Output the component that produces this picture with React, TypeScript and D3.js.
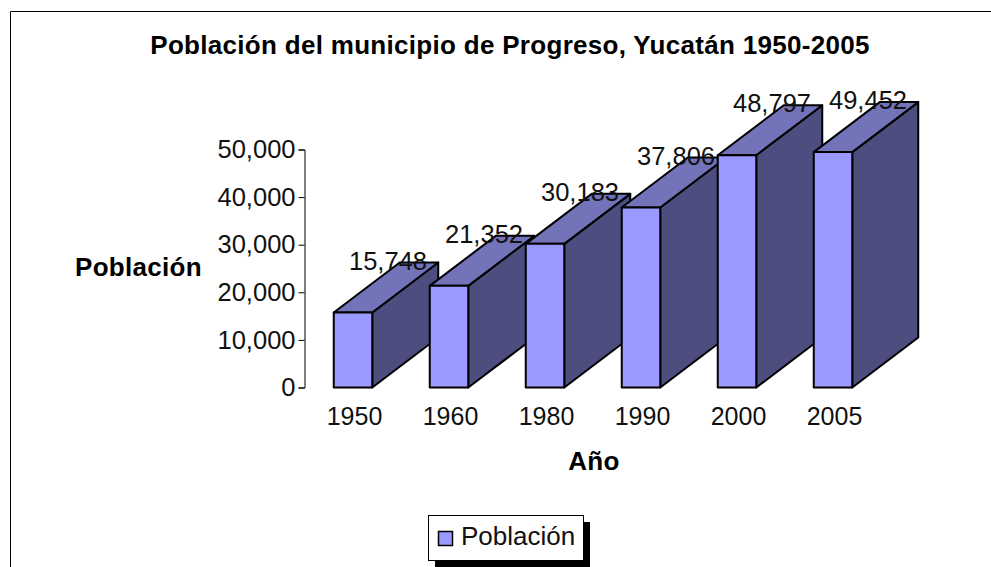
import { useEffect, useRef } from "react";
import * as d3 from "d3";

const years = ["1950", "1960", "1980", "1990", "2000", "2005"];
const population = [15748, 21352, 30183, 37806, 48797, 49452];
const yTicks = [0, 10000, 20000, 30000, 40000, 50000];

const W = 991;
const H = 567;
const font = "'Liberation Sans', Arial, sans-serif";
const depth = { x: 66, y: -50 };

const App = () => {
  const svgRef = useRef<SVGSVGElement>(null);

  useEffect(() => {
    const svg = d3.select(svgRef.current);
    svg.selectAll("*").remove();

    svg.append("rect").attr("width", W).attr("height", H).attr("fill", "#fff");

    // frame, cut off by the picture on the right and at the bottom
    svg
      .append("path")
      .attr("d", `M10.5,${H + 2}V11.5H${W + 2}`)
      .attr("fill", "none")
      .attr("stroke", "#000");

    const x = d3.scaleBand().domain(years).range([305, 881]);
    const bw = 38.5;
    const y = d3.scaleLinear().domain([0, 50000]).range([387.5, 149.5]);

    // axes
    const yAxis = d3
      .axisLeft(y)
      .tickValues(yTicks)
      .tickFormat(d3.format(","))
      .tickSize(6)
      .tickPadding(3);
    const gy = svg.append("g").attr("transform", "translate(304.5,0)").call(yAxis);
    gy.selectAll("text").attr("font-family", font).attr("font-size", 25.5).attr("fill", "#111");
    gy.selectAll("line,path").attr("stroke", "#000");

    const xAxis = d3.axisBottom(x).tickSize(0).tickPadding(20);
    const gx = svg.append("g").attr("transform", "translate(1.5,387.5)").call(xAxis);
    gx.select("path").remove();
    gx.selectAll("text").attr("font-family", font).attr("font-size", 25).attr("fill", "#111");

    // 3d bars, left to right so the later ones cover the earlier ones
    const bars = svg
      .selectAll(".bar")
      .data(years)
      .join("g")
      .attr("class", "bar")
      .attr("stroke", "#000")
      .attr("stroke-width", 2)
      .attr("stroke-linejoin", "round");

    const cx = (d: string) => x.bandwidth() / 2 + (x(d) as number) - bw / 2;
    const topY = (i: number) => y(population[i]);

    bars
      .append("path")
      .attr("fill", "#4d4d80")
      .attr("d", (d, i) => {
        const r = cx(d) + bw;
        return `M${r},${y(0)}L${r + depth.x},${y(0) + depth.y}V${topY(i) + depth.y}L${r},${topY(i)}Z`;
      });
    bars
      .append("path")
      .attr("fill", "#7373b9")
      .attr("d", (d, i) => {
        const l = cx(d);
        const t = topY(i);
        return `M${l},${t}L${l + depth.x},${t + depth.y}H${l + bw + depth.x}L${l + bw},${t}Z`;
      });
    bars
      .append("rect")
      .attr("fill", "#9999ff")
      .attr("x", (d) => cx(d))
      .attr("y", (d, i) => topY(i))
      .attr("width", bw)
      .attr("height", (d, i) => y(0) - topY(i));

    // value labels sit over the bars
    svg
      .selectAll(".val")
      .data(years)
      .join("text")
      .attr("class", "val")
      .attr("x", (d) => cx(d) + bw / 2 + 35)
      .attr("y", (d, i) => topY(i) - 43)
      .attr("text-anchor", "middle")
      .attr("font-family", font)
      .attr("font-size", 25.5)
      .attr("fill", "#111")
      .text((d, i) => d3.format(",")(population[i]));

    const label = (t: string, lx: number, ly: number) =>
      svg
        .append("text")
        .attr("x", lx)
        .attr("y", ly)
        .attr("text-anchor", "middle")
        .attr("font-family", font)
        .attr("font-weight", "bold")
        .attr("font-size", 26)
        .attr("letter-spacing", 0.3)
        .attr("fill", "#000")
        .text(t);

    label("Población del municipio de Progreso, Yucatán 1950-2005", 510, 54);
    label("Población", 138.5, 276);
    label("Año", 594, 470);

    // legend
    svg.append("rect").attr("x", 435).attr("y", 522).attr("width", 155).attr("height", 45).attr("fill", "#000");
    svg
      .append("rect")
      .attr("x", 428.5)
      .attr("y", 515.5)
      .attr("width", 155)
      .attr("height", 45)
      .attr("fill", "#fff")
      .attr("stroke", "#000");
    svg
      .append("rect")
      .attr("x", 438.5)
      .attr("y", 531.5)
      .attr("width", 14)
      .attr("height", 14)
      .attr("fill", "#9999ff")
      .attr("stroke", "#000")
      .attr("stroke-width", 1.5);
    svg
      .append("text")
      .attr("x", 461)
      .attr("y", 545)
      .attr("font-family", font)
      .attr("font-size", 26)
      .attr("fill", "#111")
      .text("Población");
  }, []);

  return (
    <svg
      ref={svgRef}
      width={W}
      height={H}
      style={{ position: "absolute", left: 0, top: 0, display: "block" }}
    ></svg>
  );
};

export default App;
